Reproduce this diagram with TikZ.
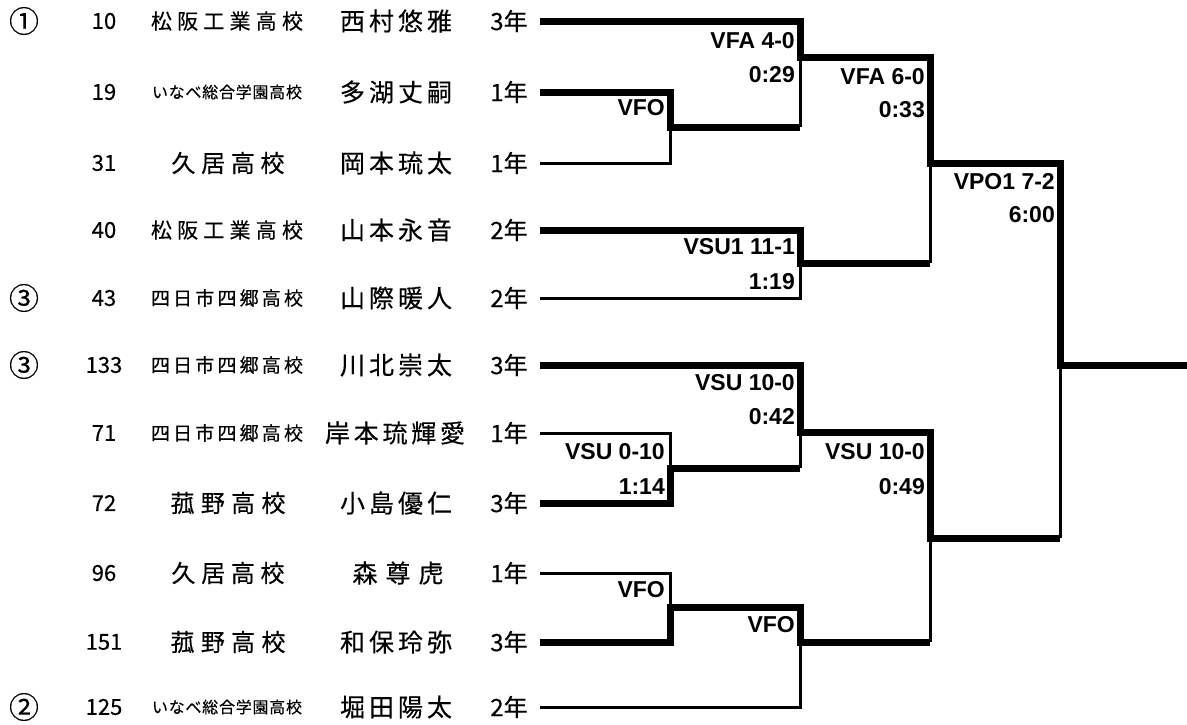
\documentclass[tikz,border=0pt]{standalone}
\usepackage{fontspec}
\setmainfont{Noto Sans CJK JP}[FakeBold=0.3]
\newfontfamily\labfont{Liberation Sans}
\newcommand\spr[2]{\makebox[#1pt][s]{#2}}
\newcommand\fsz[1]{\fontsize{#1}{#1}\selectfont}
\tikzset{
  winner/.style={line width=7pt, line join=miter},
  loser/.style={line width=3pt},
  lab/.style={font=\labfont\bfseries\fsz{23}, inner sep=0pt, anchor=east},
  txt/.style={inner sep=0pt, font=\fsz{24}},
  numtxt/.style={inner sep=0pt, font=\fsz{22}},
  circ/.style={inner sep=0pt, font=\fsz{30}},
  sch6/.style={inner sep=0pt, font=\fsz{21}},
  sch7/.style={inner sep=0pt, font=\fsz{19}},
  sch9/.style={inner sep=0pt, font=\fsz{16}},
  sch4/.style={inner sep=0pt, font=\fsz{24}},
  nm/.style={inner sep=0pt, font=\fsz{25}},
}
\begin{document}
\begin{tikzpicture}[x=1pt,y=-1pt]
\useasboundingbox (0,0) rectangle (1187,724);
\def\H{\hfill}
% row 1
\node[circ] (c1) at (24,21) {①};
\node[numtxt] (n1) at (104,21) {10};
\node[sch6] (s1) at (227,21) {\spr{152}{松\H 阪\H 工\H 業\H 高\H 校}};
\node[nm] (p1) at (396,21) {\spr{112}{西\H 村\H 悠\H 雅}};
\node[txt] (g1) at (509,21) {3年};
% row 2
\node[numtxt] (n2) at (104,92) {19};
\node[sch9] (s2) at (227,92) {\spr{150}{い\H な\H べ\H 総\H 合\H 学\H 園\H 高\H 校}};
\node[nm] (p2) at (396,92) {\spr{112}{多\H 湖\H 丈\H 嗣}};
\node[txt] (g2) at (509,92) {1年};
% row 3
\node[numtxt] (n3) at (104,163) {31};
\node[sch4] (s3) at (228,163) {\spr{113}{久\H 居\H 高\H 校}};
\node[nm] (p3) at (396,163) {\spr{112}{岡\H 本\H 琉\H 太}};
\node[txt] (g3) at (509,163) {1年};
% row 4
\node[numtxt] (n4) at (104,230) {40};
\node[sch6] (s4) at (227,230) {\spr{152}{松\H 阪\H 工\H 業\H 高\H 校}};
\node[nm] (p4) at (396,230) {\spr{112}{山\H 本\H 永\H 音}};
\node[txt] (g4) at (509,230) {2年};
% row 5
\node[circ] (c5) at (24,298) {③};
\node[numtxt] (n5) at (104,298) {43};
\node[sch7] (s5) at (227,298) {\spr{152}{四\H 日\H 市\H 四\H 郷\H 高\H 校}};
\node[nm] (p5) at (396,298) {\spr{112}{山\H 際\H 暖\H 人}};
\node[txt] (g5) at (509,298) {2年};
% row 6
\node[circ] (c6) at (24,365) {③};
\node[numtxt] (n6) at (104,365) {133};
\node[sch7] (s6) at (227,365) {\spr{152}{四\H 日\H 市\H 四\H 郷\H 高\H 校}};
\node[nm] (p6) at (396,365) {\spr{112}{川\H 北\H 崇\H 太}};
\node[txt] (g6) at (509,365) {3年};
% row 7
\node[numtxt] (n7) at (104,433) {71};
\node[sch7] (s7) at (227,433) {\spr{152}{四\H 日\H 市\H 四\H 郷\H 高\H 校}};
\node[nm] (p7) at (395,433) {\spr{140}{岸\H 本\H 琉\H 輝\H 愛}};
\node[txt] (g7) at (509,433) {1年};
% row 8
\node[numtxt] (n8) at (104,503) {72};
\node[sch4] (s8) at (228,503) {\spr{115}{菰\H 野\H 高\H 校}};
\node[nm] (p8) at (396,503) {\spr{112}{小\H 島\H 優\H 仁}};
\node[txt] (g8) at (509,503) {3年};
% row 9
\node[numtxt] (n9) at (104,573) {96};
\node[sch4] (s9) at (228,573) {\spr{113}{久\H 居\H 高\H 校}};
\node[nm] (p9) at (398,573) {\spr{91}{森\H 尊\H 虎}};
\node[txt] (g9) at (509,573) {1年};
% row 10
\node[numtxt] (n10) at (104,642) {151};
\node[sch4] (s10) at (228,642) {\spr{115}{菰\H 野\H 高\H 校}};
\node[nm] (p10) at (396,642) {\spr{112}{和\H 保\H 玲\H 弥}};
\node[txt] (g10) at (509,642) {3年};
% row 11
\node[circ] (c11) at (24,707) {②};
\node[numtxt] (n11) at (104,707) {125};
\node[sch9] (s11) at (227,707) {\spr{150}{い\H な\H べ\H 総\H 合\H 学\H 園\H 高\H 校}};
\node[nm] (p11) at (396,707) {\spr{112}{堀\H 田\H 陽\H 太}};
\node[txt] (g11) at (509,707) {2年};
% line starts
\coordinate (a1) at (540,21);
\coordinate (a2) at (540,92);
\coordinate (a3) at (540,163);
\coordinate (a4) at (540,230);
\coordinate (a5) at (540,298);
\coordinate (a6) at (540,365);
\coordinate (a7) at (540,433);
\coordinate (a8) at (540,503);
\coordinate (a9) at (540,573);
\coordinate (a10) at (540,642);
\coordinate (a11) at (540,707);
% junctions
\coordinate (ja) at (670,127);
\coordinate (jb) at (800,57);
\coordinate (jc) at (800,263);
\coordinate (jd) at (930,163);
\coordinate (je) at (670,468);
\coordinate (jf) at (800,432);
\coordinate (jg) at (670,607);
\coordinate (jh) at (800,642);
\coordinate (ji) at (930,538);
\coordinate (jz) at (1060,365);
\coordinate (fin) at (1187,365);
% thin (losing) lines
\draw[loser] (a3) -| (ja);
\draw[loser] (ja -| jb) -- (jb);
\draw[loser] (a5) -| (jc);
\draw[loser] (jc -| jd) -- (jd);
\draw[loser] (ji -| jz) -- (jz);
\draw[loser] (a7) -| (je);
\draw[loser] (je -| jf) -- (jf);
\draw[loser] (a9) -| (jg);
\draw[loser] (a11) -| (jh);
\draw[loser] (jh -| ji) -- (ji);
% thick (winning) lines
\draw[winner] (a1) -| (jb) -| (jd) -| (jz) -- (fin);
\draw[winner] (a2) -| (ja) -- (ja -| jb);
\draw[winner] (a4) -| (jc) -- (jc -| jd);
\draw[winner] (a6) -| (jf) -| (ji) -- (ji -| jz);
\draw[winner] (a8) -| (je) -- (je -| jf);
\draw[winner] (a10) -| (jg) -| (jh) -- (jh -| ji);
% labels
\node[lab] (l1) at (795,41) {VFA 4-0};
\node[lab] (t1) at (795,75) {0:29};
\node[lab] (l2) at (925,77) {VFA 6-0};
\node[lab] (t2) at (925,110) {0:33};
\node[lab] (l3) at (665,108) {VFO};
\node[lab] (l4) at (795,247) {VSU1 11-1};
\node[lab] (t4) at (795,282) {1:19};
\node[lab] (l5) at (1055,182) {VPO1 7-2};
\node[lab] (t5) at (1055,215) {6:00};
\node[lab] (l6) at (795,383) {VSU 10-0};
\node[lab] (t6) at (795,417) {0:42};
\node[lab] (l7) at (665,452) {VSU 0-10};
\node[lab] (t7) at (665,487) {1:14};
\node[lab] (l8) at (925,452) {VSU 10-0};
\node[lab] (t8) at (925,487) {0:49};
\node[lab] (l9) at (665,590) {VFO};
\node[lab] (l10) at (795,625) {VFO};
\end{tikzpicture}
\end{document}
